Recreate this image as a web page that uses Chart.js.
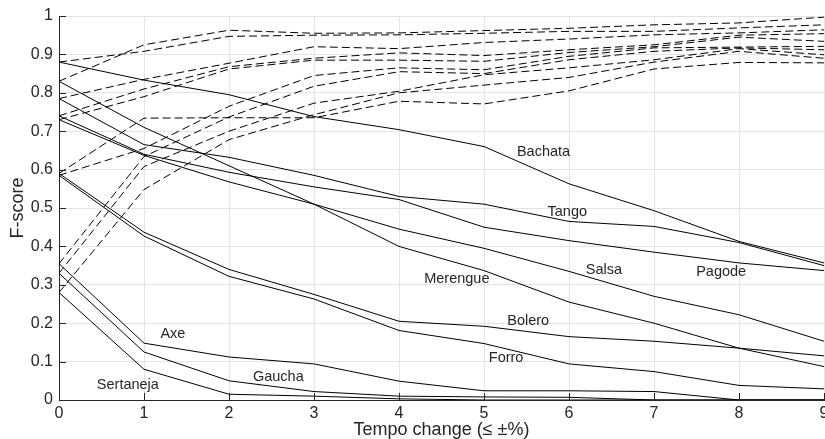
<!DOCTYPE html>
<html>
<head>
<meta charset="utf-8">
<script src="https://cdn.jsdelivr.net/npm/chart.js@4.4.1/dist/chart.umd.min.js"></script>
<style>
  html, body { margin: 0; padding: 0; background: #fff; }
</style>
</head>
<body>
<canvas id="chart" width="825" height="439"></canvas>
<script>
// tempo tolerance steps (x axis)
const tempoSteps = [0, 1, 2, 3, 4, 5, 6, 7, 8, 9]
const genres = ['Bachata', 'Tango', 'Merengue', 'Pagode', 'Salsa', 'Bolero', 'Forro', 'Axe', 'Gaucha', 'Sertaneja']

// solid lines: F-score per genre
const bachata   = [0.88, 0.833, 0.795, 0.738, 0.704, 0.66, 0.563, 0.493, 0.413, 0.357]
const tango     = [0.785, 0.665, 0.632, 0.585, 0.53, 0.51, 0.465, 0.452, 0.41, 0.35]
const merengue  = [0.83, 0.71, 0.61, 0.51, 0.40, 0.337, 0.255, 0.20, 0.135, 0.087]
const pagode    = [0.74, 0.64, 0.593, 0.555, 0.522, 0.45, 0.415, 0.385, 0.357, 0.337]
const salsa     = [0.73, 0.637, 0.568, 0.51, 0.445, 0.395, 0.335, 0.27, 0.222, 0.153]
const bolero    = [0.59, 0.437, 0.34, 0.275, 0.205, 0.192, 0.165, 0.153, 0.135, 0.115]
const forro     = [0.585, 0.427, 0.322, 0.263, 0.181, 0.147, 0.094, 0.074, 0.038, 0.029]
const axe       = [0.355, 0.148, 0.112, 0.094, 0.049, 0.024, 0.024, 0.022, 0.0, 0.0]
const gaucha    = [0.33, 0.125, 0.05, 0.022, 0.01, 0.008, 0.007, 0.0, 0.0, 0.0]
const sertaneja = [0.28, 0.08, 0.015, 0.01, 0.003, 0.0, 0.0, 0.0, 0.0, 0.0]

// dashed lines: same genres, other measure
const bachataD   = [0.88, 0.908, 0.947, 0.95, 0.951, 0.955, 0.96, 0.96, 0.969, 0.977]
const tangoD     = [0.785, 0.835, 0.877, 0.92, 0.915, 0.931, 0.94, 0.951, 0.956, 0.964]
const merengueD  = [0.83, 0.925, 0.963, 0.955, 0.956, 0.962, 0.968, 0.977, 0.982, 0.997]
const pagodeD    = [0.74, 0.81, 0.868, 0.89, 0.904, 0.897, 0.912, 0.925, 0.95, 0.954]
const salsaD     = [0.73, 0.79, 0.862, 0.885, 0.885, 0.882, 0.905, 0.92, 0.945, 0.934]
const boleroD    = [0.59, 0.734, 0.735, 0.735, 0.778, 0.771, 0.805, 0.862, 0.879, 0.878]
const forroD     = [0.585, 0.655, 0.765, 0.845, 0.865, 0.86, 0.895, 0.917, 0.919, 0.921]
const axeD       = [0.355, 0.634, 0.737, 0.817, 0.855, 0.85, 0.886, 0.908, 0.917, 0.912]
const gauchaD    = [0.33, 0.608, 0.70, 0.773, 0.804, 0.847, 0.865, 0.886, 0.915, 0.899]
const sertanejaD = [0.28, 0.548, 0.678, 0.743, 0.80, 0.82, 0.84, 0.88, 0.908, 0.89]

const solidSeries = [bachata, tango, merengue, pagode, salsa, bolero, forro, axe, gaucha, sertaneja]
const dashedSeries = [bachataD, tangoD, merengueD, pagodeD, salsaD, boleroD, forroD, axeD, gauchaD, sertanejaD]

// where the genre names sit, in axis units
const labelX = [5.70, 5.98, 4.68, 7.79, 6.41, 5.52, 5.26, 1.34, 2.58, 0.81]
const labelY = [0.647, 0.49, 0.316, 0.334, 0.339, 0.206, 0.109, 0.173, 0.061, 0.04]

const FONT = '"Liberation Sans", Arial, Helvetica, sans-serif'
const INK = '#262626'

const toPoints = (vals) => vals.map((v, i) => ({ x: tempoSteps[i], y: v }))

let datasets = []
dashedSeries.forEach((vals, i) => {
  datasets.push({
    label: genres[i] + ' (dashed)',
    data: toPoints(vals),
    borderColor: '#000',
    borderWidth: 1,
    borderDash: [8, 4],
    pointRadius: 0,
    tension: 0
  })
})
solidSeries.forEach((vals, i) => {
  datasets.push({
    label: genres[i],
    data: toPoints(vals),
    borderColor: '#000',
    borderWidth: 1,
    pointRadius: 0,
    tension: 0
  })
})

// genre names + inward tick marks
const annotate = {
  id: 'annotate',
  afterDatasetsDraw(chart) {
    const { ctx, scales: { x, y }, chartArea } = chart
    ctx.save()
    ctx.strokeStyle = INK
    ctx.lineWidth = 1
    ctx.beginPath()
    tempoSteps.forEach(t => {
      const px = Math.round(x.getPixelForValue(t)) + 0.5
      ctx.moveTo(px, chartArea.bottom)
      ctx.lineTo(px, chartArea.bottom - 7)
    })
    for (let v = 0; v <= 10; v++) {
      const py = Math.round(y.getPixelForValue(v / 10)) + 0.5
      ctx.moveTo(chartArea.left, py)
      ctx.lineTo(chartArea.left + 7, py)
    }
    ctx.stroke()

    ctx.fillStyle = INK
    ctx.font = '14.5px ' + FONT
    ctx.textAlign = 'center'
    ctx.textBaseline = 'middle'
    genres.forEach((g, i) => {
      ctx.fillText(g, x.getPixelForValue(labelX[i]), y.getPixelForValue(labelY[i]))
    })
    ctx.restore()
  }
}

new Chart(document.getElementById('chart'), {
  type: 'line',
  data: { datasets },
  options: {
    responsive: false,
    animation: false,
    layout: { padding: { top: 16, right: 1, left: 0, bottom: 0 } },
    plugins: { legend: { display: false }, tooltip: { enabled: false } },
    scales: {
      x: {
        type: 'linear',
        min: 0,
        max: 9,
        ticks: { stepSize: 1, color: INK, font: { family: FONT, size: 16 }, padding: 4, maxRotation: 0 },
        grid: { color: '#e3e3e3', drawTicks: false },
        border: { color: INK },
        title: { display: true, text: 'Tempo change (≤ ±%)', color: INK, font: { family: FONT, size: 18, lineHeight: 1 }, padding: { top: 0, bottom: 0 } },
        afterFit(scale) {
          scale.height = 39
          scale.paddingLeft = 0
          scale.paddingRight = 0
        }
      },
      y: {
        min: 0,
        max: 1,
        ticks: {
          stepSize: 0.1, color: INK, font: { family: FONT, size: 16 }, padding: 6,
          callback: (v) => String(Number(v.toFixed(1)))
        },
        grid: { color: '#e3e3e3', drawTicks: false },
        border: { color: INK },
        title: { display: true, text: 'F-score', color: INK, font: { family: FONT, size: 18 }, padding: { top: 7, bottom: 0 } },
        afterFit(scale) {
          scale.width = 59
          scale.paddingTop = 0
          scale.paddingBottom = 0
        }
      }
    }
  },
  plugins: [annotate]
})
</script>
</body>
</html>
